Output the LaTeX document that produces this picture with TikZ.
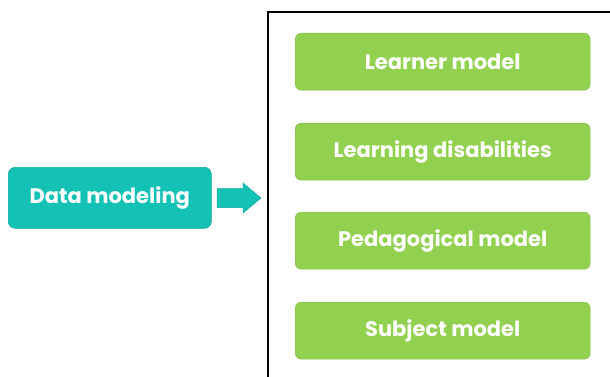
\documentclass[tikz,border=0pt]{standalone}
\usepackage{fontspec}
\setmainfont{Poppins}
\definecolor{teal1}{HTML}{13C2B5}
\definecolor{teal2}{HTML}{10A89D}
\definecolor{green1}{HTML}{92D050}
\begin{document}
\begin{tikzpicture}[x=1pt,y=-1pt,
  gbox/.style={rectangle, rounded corners=6pt, fill=green1, draw=green1!90!black, line width=0.4pt,
     minimum width=295pt, minimum height=57pt, anchor=north west, text=white,
     font=\fontsize{21}{24}\selectfont\bfseries},
  tbox/.style={rectangle, rounded corners=7pt, fill=teal1, draw=teal2, line width=0.6pt,
     minimum width=203pt, minimum height=61pt, anchor=north west, text=white,
     font=\fontsize{21}{24}\selectfont\bfseries},
  bigarrow/.style={fill=teal1, draw=teal2, line width=0.5pt}]
\useasboundingbox (0,0) rectangle (610,377);
\node[tbox] (dm) at (8,167) {Data modeling};
\coordinate (tail) at (217,198);
\coordinate (tip) at (261,198);
\draw[bigarrow] (tail) ++(0,-9.5) -- ++(26,0) -- ++(0,-5.5) -- (tip) -- ++(-18,15) -- ++(0,-5.5) -- ++(-26,0) -- cycle;
\draw[line width=1.3pt] (268,378) -- (268,12) -- (611,12);
\node[gbox] (l1) at (295,33) {Learner model};
\node[gbox] (l2) at (295,123) {Learning disabilities};
\node[gbox] (l3) at (295,212) {Pedagogical model};
\node[gbox] (l4) at (295,302) {Subject model};
\end{tikzpicture}
\end{document}
